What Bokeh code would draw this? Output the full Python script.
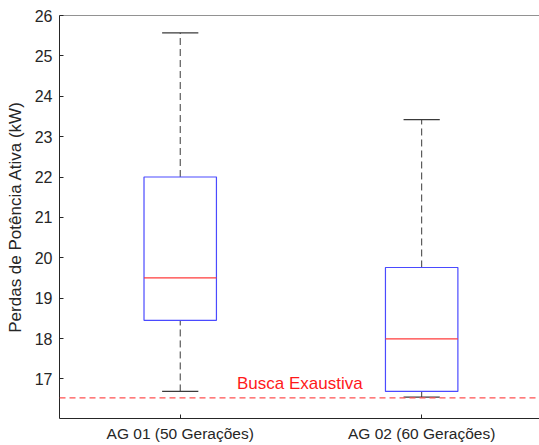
from bokeh.plotting import figure
from bokeh.models import Range1d, FixedTicker, Label, Span
from bokeh.embed import file_html
from bokeh.resources import INLINE

# data
categories = ["AG 01 (50 Gerações)", "AG 02 (60 Gerações)"]
positions = [1, 2]
lower_whisker = [16.69, 16.55]
q1 = [18.45, 16.69]
median = [19.50, 17.99]
q3 = [22.00, 19.76]
upper_whisker = [25.57, 23.42]
exhaustive_value = 16.53
exhaustive_label = "Busca Exaustiva"
y_ticks = [17, 18, 19, 20, 21, 22, 23, 24, 25, 26]

FONT = "Liberation Sans"
TXT = "#262626"
box_w = 0.3
cap_w = 0.15

p = figure(width=539, height=445, output_backend="svg", toolbar_location=None,
           x_range=Range1d(0.5, 2.488), y_range=Range1d(16.02, 26.0),
           min_border_left=59, min_border_right=0, min_border_top=15, min_border_bottom=27)
p.xgrid.visible = False
p.ygrid.visible = False
p.outline_line_color = None
p.background_fill_color = "white"
p.border_fill_color = "white"

# axes
xa = p.xaxis[0]
xa.ticker = FixedTicker(ticks=positions)
xa.major_label_overrides = {pos: c for pos, c in zip(positions, categories)}
xa.major_tick_in = 4
xa.major_tick_out = 0
xa.minor_tick_line_color = None
xa.major_label_standoff = 6
xa.major_label_text_font = FONT
xa.major_label_text_font_size = "15.5px"
xa.major_label_text_color = TXT
xa.axis_line_color = TXT
xa.major_tick_line_color = TXT

ya = p.yaxis[0]
ya.ticker = FixedTicker(ticks=y_ticks)
ya.major_tick_in = 4
ya.major_tick_out = 0
ya.minor_tick_line_color = None
ya.major_label_standoff = 7
ya.major_label_text_font = FONT
ya.major_label_text_font_size = "16px"
ya.major_label_text_color = TXT
ya.axis_line_color = TXT
ya.major_tick_line_color = TXT
ya.axis_label = "Perdas de Potência Ativa (kW)"
ya.axis_label_text_font = FONT
ya.axis_label_text_font_size = "17px"
ya.axis_label_text_font_style = "normal"
ya.axis_label_text_color = TXT
ya.axis_label_standoff = 7

# top frame line
p.add_layout(Span(location=p.y_range.end, dimension="width", line_color=TXT, line_width=1))

# whiskers
p.segment(x0=positions, y0=q3, x1=positions, y1=upper_whisker,
          line_color="#3a3a3a", line_dash="7 4", line_width=1)
p.segment(x0=positions, y0=lower_whisker, x1=positions, y1=q1,
          line_color="#3a3a3a", line_dash="7 4", line_width=1)
# caps
p.segment(x0=[x - cap_w / 2 for x in positions], y0=upper_whisker,
          x1=[x + cap_w / 2 for x in positions], y1=upper_whisker,
          line_color="#3a3a3a", line_width=1.2)
p.segment(x0=[x - cap_w / 2 for x in positions], y0=lower_whisker,
          x1=[x + cap_w / 2 for x in positions], y1=lower_whisker,
          line_color="#3a3a3a", line_width=1.2)
# boxes
p.quad(left=[x - box_w / 2 for x in positions], right=[x + box_w / 2 for x in positions],
       bottom=q1, top=q3, fill_color=None, line_color="#4a4aff", line_width=1.2)
# medians
p.segment(x0=[x - box_w / 2 for x in positions], y0=median,
          x1=[x + box_w / 2 for x in positions], y1=median,
          line_color="#ff3b3b", line_width=1.2)

# exhaustive search line
p.add_layout(Span(location=exhaustive_value, dimension="width",
                  line_color="#ff5050", line_dash="6 4", line_width=1.2))
p.add_layout(Label(x=1.235, y=16.89, text=exhaustive_label, text_color="#ff1a1a",
                   text_font=FONT, text_font_size="17px", text_baseline="alphabetic"))

open("out.html", "w").write(file_html(p, INLINE))
